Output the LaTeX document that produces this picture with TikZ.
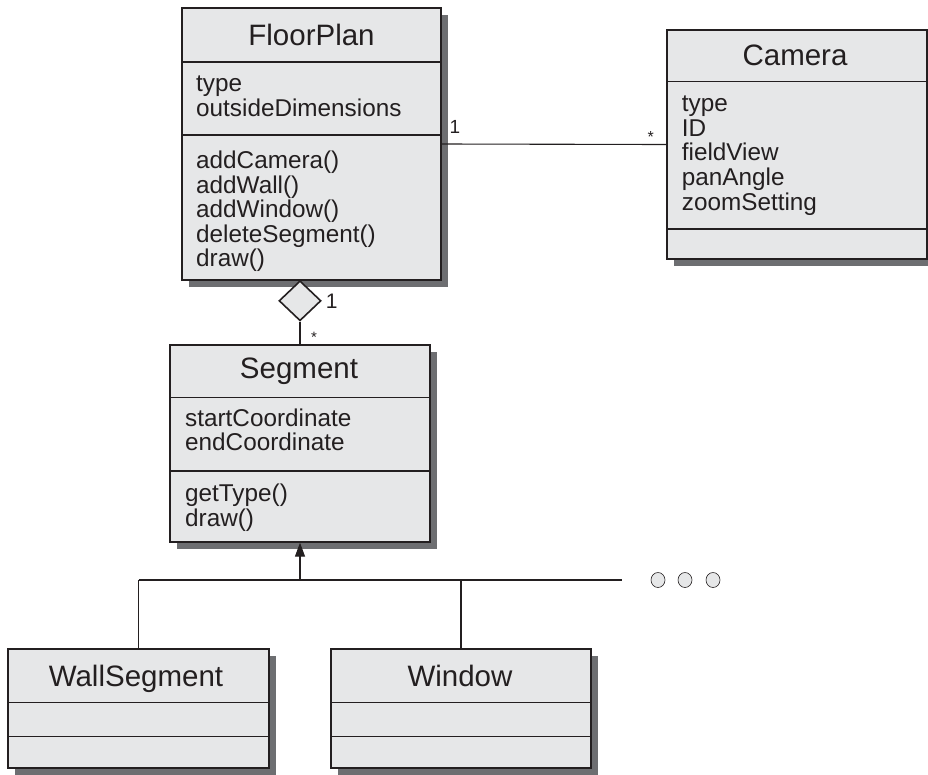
\documentclass[tikz,border=0pt]{standalone}
\usepackage{fontspec}
\setmainfont{Liberation Sans}
\usetikzlibrary{arrows.meta,shadows,shapes.geometric}
\definecolor{boxfill}{HTML}{E6E7E8}
\definecolor{shadowgray}{HTML}{6D6E71}
\definecolor{ink}{HTML}{231F20}
\begin{document}
\begin{tikzpicture}[x=1pt,y=-1pt,
  classbox/.style={draw=ink, line width=1.3pt, fill=boxfill, inner sep=0pt,
    drop shadow={shadow xshift=7pt, shadow yshift=-7pt, fill=shadowgray, opacity=1}},
  titletext/.style={anchor=base, inner sep=0pt, font=\fontsize{29.5}{30}\selectfont, text=ink},
  member/.style={anchor=base west, inner sep=0pt, font=\fontsize{24.3}{25}\selectfont, text=ink},
  divider/.style={draw=ink, line width=1.1pt},
  conn/.style={draw=ink, line width=1.1pt},
  mult/.style={anchor=base, inner sep=0pt, text=ink}]
\useasboundingbox (0,0) rectangle (928,774);

% ---- FloorPlan
\node[classbox, minimum width=259pt, minimum height=272pt] (fp) at (311.5,144) {};
\draw[divider] (fp.west |- 0,62) -- (fp.east |- 0,62);
\draw[divider] (fp.west |- 0,135) -- (fp.east |- 0,135);
\node[titletext] (fpT) at (311.5,45) {FloorPlan};
\node[member] (fpA1) at (196,91.7) {type};
\node[member] (fpA2) at (196,116) {outsideDimensions};
\node[member] (fpM1) at (196,168.3) {addCamera()};
\node[member] (fpM2) at (196,193) {addWall()};
\node[member] (fpM3) at (196,217.6) {addWindow()};
\node[member] (fpM4) at (196,242.2) {deleteSegment()};
\node[member] (fpM5) at (196,266.8) {draw()};

% ---- Camera
\node[classbox, minimum width=260pt, minimum height=229pt] (cam) at (797,144.5) {};
\draw[divider] (cam.west |- 0,81.7) -- (cam.east |- 0,81.7);
\draw[divider] (cam.west |- 0,229) -- (cam.east |- 0,229);
\node[titletext] (camT) at (795,65) {Camera};
\node[member] (camA1) at (681.7,111.7) {type};
\node[member] (camA2) at (681.7,136.3) {ID};
\node[member] (camA3) at (681.7,160.9) {fieldView};
\node[member] (camA4) at (681.7,185.5) {panAngle};
\node[member] (camA5) at (681.7,210.1) {zoomSetting};

% ---- Segment
\node[classbox, minimum width=260pt, minimum height=197pt] (seg) at (300,443.5) {};
\draw[divider] (seg.west |- 0,397.3) -- (seg.east |- 0,397.3);
\draw[divider] (seg.west |- 0,471) -- (seg.east |- 0,471);
\node[titletext] (segT) at (299,378.3) {Segment};
\node[member] (segA1) at (185,426) {startCoordinate};
\node[member] (segA2) at (185,450.7) {endCoordinate};
\node[member] (segM1) at (185,501.7) {getType()};
\node[member] (segM2) at (185,526.3) {draw()};

% ---- WallSegment
\node[classbox, minimum width=261pt, minimum height=119pt] (ws) at (138.5,708.5) {};
\draw[divider] (ws.west |- 0,702.7) -- (ws.east |- 0,702.7);
\draw[divider] (ws.west |- 0,736.7) -- (ws.east |- 0,736.7);
\node[titletext] (wsT) at (136,686.7) {WallSegment};

% ---- Window
\node[classbox, minimum width=260pt, minimum height=119pt] (win) at (461,708.5) {};
\draw[divider] (win.west |- 0,702.7) -- (win.east |- 0,702.7);
\draw[divider] (win.west |- 0,736.7) -- (win.east |- 0,736.7);
\node[titletext] (winT) at (460,686.7) {Window};

% ---- association FloorPlan -- Camera
\draw[conn] (fp.east) -- (cam.west);
\node[mult, font=\fontsize{19}{19}\selectfont] (m1) at (455,133) {1};
\node[mult, font=\fontsize{16}{16}\selectfont] (m2) at (650.7,142) {*};

% ---- aggregation FloorPlan -- Segment
\node[diamond, draw=ink, line width=1.6pt, fill=boxfill, minimum width=42pt,
      minimum height=40pt, inner sep=0pt, anchor=north] (agg) at (300,280) {};
\draw[conn] (agg.south) -- (seg.north);
\node[mult, font=\fontsize{21}{21}\selectfont] (m3) at (331.7,308) {1};
\node[mult, font=\fontsize{15}{15}\selectfont] (m4) at (314,342) {*};

% ---- generalization
\coordinate (busL) at (ws.north |- 0,580);
\coordinate (busR) at (622,580);
\coordinate (busM) at (seg.south |- 0,580);
\draw[conn] (busL) -- (busR);
\draw[conn] (ws.north) -- (busL);
\draw[conn] (win.north) -- (win.north |- busL);
\draw[conn, -{Triangle[width=10pt,length=14pt]}] (busM) -- (seg.south);

% ---- ellipsis dots
\foreach \i/\x in {1/658,2/685,3/713}
  \node[ellipse, draw=ink, line width=0.6pt, fill=boxfill, minimum width=14pt,
        minimum height=15pt, inner sep=0pt] (dot\i) at (\x,580) {};
\end{tikzpicture}
\end{document}
